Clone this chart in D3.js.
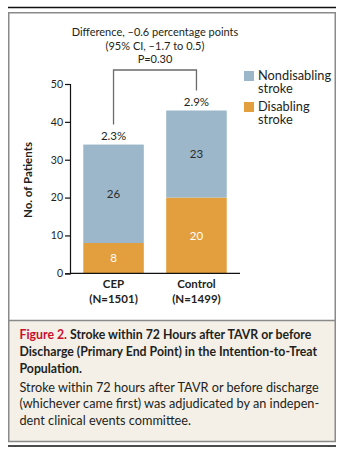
<!DOCTYPE html>
<html>
<head>
<meta charset="utf-8">
<script src="https://cdn.jsdelivr.net/npm/d3@7"></script>
<style>
  html, body { margin: 0; padding: 0; background: #fff; }
  svg { display: block; }
  text { font-family: Lato, "Open Sans", sans-serif; fill: #231f20; }
</style>
</head>
<body>
<svg id="chart" width="340" height="452"></svg>
<script>
// Stroke counts per group
const groups = ["CEP", "Control"];
const groupSizes = ["(N=1501)", "(N=1499)"];
const disabling = [8, 20];
const nondisabling = [26, 23];
const rates = ["2.3%", "2.9%"];
const yTicks = [0, 10, 20, 30, 40, 50];
const seriesNames = ["Nondisabling stroke", "Disabling stroke"];
const seriesColors = ["#9bb7c9", "#e39f3d"];
const comparisonLines = ["Difference, \u20130.6 percentage points", "(95% CI, \u20131.7 to 0.5)", "P=0.30"];
const captionTitle = ["Stroke within 72 Hours after TAVR or before", "Discharge (Primary End Point) in the Intention-to-Treat", "Population."];
const captionBody = ["Stroke within 72 hours after TAVR or before discharge", "(whichever came first) was adjudicated by an indepen-", "dent clinical events committee."];

const svg = d3.select("#chart");

// Frame, caption panel and rules
svg.append("line").attr("x1", 8).attr("x2", 336).attr("y1", 7.5).attr("y2", 7.5)
  .attr("stroke", "#111").attr("stroke-width", 1.5);
svg.append("rect").attr("x", 8.75).attr("y", 320.5).attr("width", 326.5).attr("height", 121)
  .attr("fill", "#f4f0e8");
svg.append("line").attr("x1", 8.75).attr("x2", 335.25).attr("y1", 320.5).attr("y2", 320.5)
  .attr("stroke", "#8a8a8a").attr("stroke-width", 1.5);
svg.append("rect").attr("x", 8.75).attr("y", 12.75).attr("width", 326.5).attr("height", 428.75)
  .attr("fill", "none").attr("stroke", "#8a8a8a").attr("stroke-width", 1.5);
svg.append("line").attr("x1", 8).attr("x2", 336).attr("y1", 446).attr("y2", 446)
  .attr("stroke", "#111").attr("stroke-width", 1.5);

// Scales
const y = d3.scaleLinear().domain([0, 50]).range([273.3, 84]);
const x = d3.scaleBand().domain(groups).range([70, 240]).paddingInner(0.27).paddingOuter(0.16);

// Stacked data
const rows = groups.map((g, i) => ({ group: g, disabling: disabling[i], nondisabling: nondisabling[i] }));
const stack = d3.stack().keys(["disabling", "nondisabling"])(rows);
const colorOf = { disabling: seriesColors[1], nondisabling: seriesColors[0] };

const layers = svg.append("g").selectAll("g").data(stack).join("g")
  .attr("fill", d => colorOf[d.key]);
layers.selectAll("rect").data(d => d).join("rect")
  .attr("x", d => x(d.data.group))
  .attr("width", x.bandwidth())
  .attr("y", d => y(d[1]))
  .attr("height", d => y(d[0]) - y(d[1]));

// Segment counts
stack.forEach(layer => {
  svg.append("g").selectAll("text").data(layer).join("text")
    .attr("x", d => x(d.data.group) + x.bandwidth() / 2)
    .attr("y", d => y((d[0] + d[1]) / 2))
    .attr("dy", "0.36em")
    .attr("text-anchor", "middle")
    .attr("font-size", 11.5)
    .style("fill", layer.key === "disabling" ? "#fff" : "#2b2b2b")
    .text(d => d[1] - d[0]);
});

// Rates above bars
svg.append("g").selectAll("text").data(rows).join("text")
  .attr("x", d => x(d.group) + x.bandwidth() / 2)
  .attr("y", d => y(d.disabling + d.nondisabling) - 5)
  .attr("text-anchor", "middle")
  .attr("font-size", 11.5)
  .text((d, i) => rates[i]);

// Comparison bracket
const cx = groups.map(g => x(g) + x.bandwidth() / 2);
const totals = rows.map(d => d.disabling + d.nondisabling);
const bracketTop = 70;
svg.append("path")
  .attr("d", `M${cx[0]},${y(totals[0]) - 20}V${bracketTop}H${cx[1]}V${y(totals[1]) - 20}`)
  .attr("fill", "none").attr("stroke", "#6b6b6b").attr("stroke-width", 1.3);
svg.append("g").selectAll("text").data(comparisonLines).join("text")
  .attr("x", 155).attr("y", (d, i) => 36 + i * 13.7)
  .attr("text-anchor", "middle").attr("font-size", 11)
  .text(d => d);

// Axes
const yAxis = svg.append("g").attr("transform", "translate(70,0)")
  .call(d3.axisLeft(y).tickValues(yTicks).tickSize(5).tickPadding(2));
yAxis.select(".domain").attr("stroke", "#111").attr("stroke-width", 1.2);
yAxis.selectAll(".tick line").attr("stroke", "#111").attr("stroke-width", 1.2);
yAxis.selectAll(".tick text").attr("font-size", 10.5).attr("font-family", "Lato, sans-serif").style("fill", "#231f20");

svg.append("line").attr("x1", 70).attr("x2", 240).attr("y1", y(0)).attr("y2", y(0))
  .attr("stroke", "#111").attr("stroke-width", 1.2);

svg.append("text")
  .attr("transform", "translate(32,180) rotate(-90)")
  .attr("text-anchor", "middle").attr("font-size", 11.5).attr("font-weight", 700)
  .text("No. of Patients");

// Group labels
const catLabels = svg.append("g").selectAll("text").data(groups).join("text")
  .attr("x", d => x(d) + x.bandwidth() / 2)
  .attr("y", 288)
  .attr("text-anchor", "middle").attr("font-size", 11.5).attr("font-weight", 700);
catLabels.append("tspan").text(d => d);
catLabels.append("tspan").attr("x", d => x(d) + x.bandwidth() / 2).attr("dy", 14.5)
  .text((d, i) => groupSizes[i]);

// Legend
const legend = svg.append("g").selectAll("g").data(seriesNames).join("g")
  .attr("transform", (d, i) => `translate(244,${71 + i * 31})`);
legend.append("rect").attr("width", 10).attr("height", 10).attr("fill", (d, i) => seriesColors[i]);
legend.append("text").attr("x", 14).attr("y", 9).attr("font-size", 12.8)
  .text(d => d.split(" ")[0]);
legend.append("text").attr("x", 14).attr("y", 21.5).attr("font-size", 12.8)
  .text(d => d.split(" ")[1]);

// Caption
const cap = svg.append("text").attr("x", 19.5).attr("y", 339).attr("font-size", 12.3).attr("font-weight", 700);
captionTitle.forEach((line, i) => {
  const t = cap.append("tspan").attr("x", 19.5).attr("dy", i === 0 ? 0 : 16.8);
  if (i === 0) {
    t.append("tspan").style("fill", "#c8102e").text("Figure 2. ");
    t.append("tspan").text(line);
  } else {
    t.text(line);
  }
});
svg.append("g").selectAll("text").data(captionBody).join("text")
  .attr("x", 19.5).attr("y", (d, i) => 391.7 + i * 16.6)
  .attr("font-size", 12.7)
  .text(d => d);
</script>
</body>
</html>
